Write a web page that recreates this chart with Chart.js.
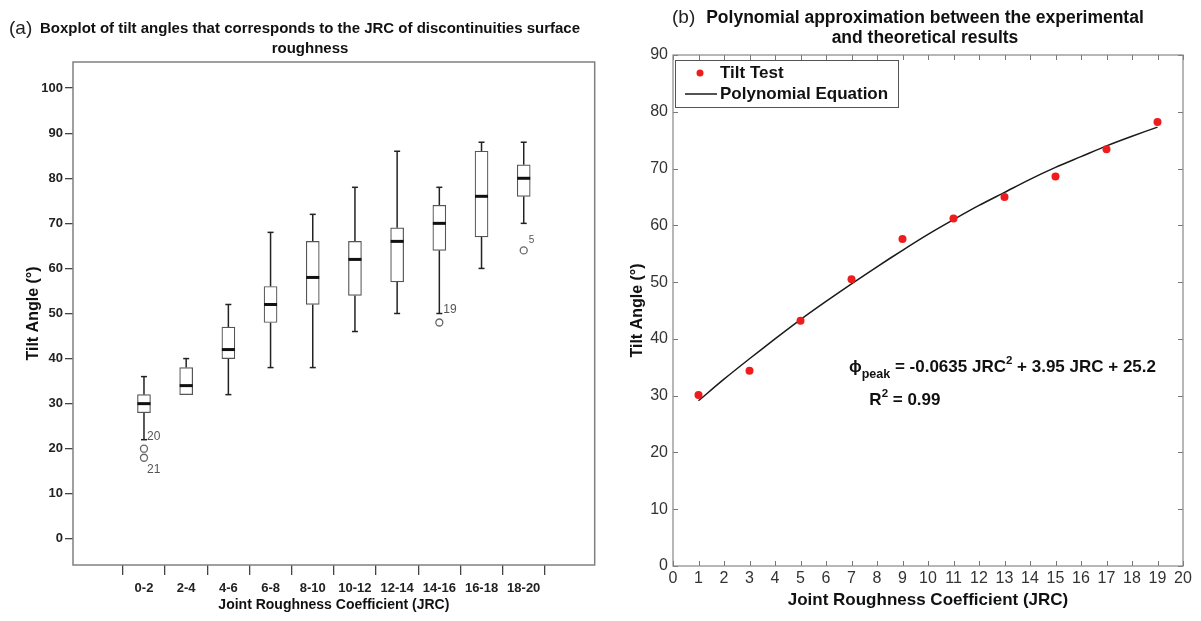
<!DOCTYPE html>
<html><head><meta charset="utf-8">
<title>Tilt angle vs JRC</title>
<script src="https://cdn.jsdelivr.net/npm/chart.js@4.4.1/dist/chart.umd.min.js"></script>
<style>
html,body{margin:0;padding:0;background:#fff;}
body{width:1201px;height:621px;position:relative;overflow:hidden;}
canvas{position:absolute;top:0;}
#ca{left:0;} #cb{left:600px;}
.lbl{position:absolute;white-space:nowrap;color:#111;}
.tag{font-family:'Liberation Sans',Arial,sans-serif;font-size:19px;font-weight:normal;color:#222;line-height:22px;}
.ta{font-family:'Liberation Sans',Arial,sans-serif;font-weight:bold;font-size:15px;text-align:center;line-height:20px;}
.tb{font-family:'Liberation Sans',Arial,sans-serif;font-weight:bold;font-size:17.5px;text-align:center;line-height:20px;}
</style></head>
<body>
<canvas id="ca" width="600" height="621"></canvas>
<canvas id="cb" width="601" height="621"></canvas>
<div class="lbl tag" style="left:9px;top:17px;">(a)</div>
<div class="lbl ta" style="left:10px;width:600px;top:18px;">Boxplot of tilt angles that corresponds to the JRC of discontinuities surface<br>roughness</div>
<div class="lbl tag" style="left:672px;top:6px;">(b)</div>
<div class="lbl tb" style="left:625px;width:600px;top:7px;">Polynomial approximation between the experimental<br>and theoretical results</div>
<script>
// ---------- Panel (a) data: boxplot ----------
const categories  = ['0-2','2-4','4-6','6-8','8-10','10-12','12-14','14-16','16-18','18-20'];
const whiskerLow  = [22,32,32,38,38,46,50,50,60,70];
const q1          = [28,32,40,48,52,54,57,64,67,76];
const medians     = [30,34,42,52,58,62,66,70,76,80];
const q3          = [32,38,47,56,66,66,69,74,86,83];
const whiskerHigh = [36,40,52,68,72,78,86,78,88,88];
const outlierIndex = [0,0,7,9];
const outlierValue = [20,18,48,64];
const outlierCase  = ['20','21','19','5'];
const tiltTicksA   = [0,10,20,30,40,50,60,70,80,90,100];

// ---------- Panel (b) data ----------
const jrcTest  = [1,3,5,7,9,11,13,15,17,19];
const tiltTest = [30.1,34.4,43.2,50.5,57.6,61.2,65.0,68.6,73.4,78.2];
const jrcFit   = [1,2,3,4,5,6,7,8,9,10,11,12,13,14,15,16,17,18,19];
const tiltFit  = [29.1,32.9,36.5,40.0,43.4,46.6,49.7,52.7,55.6,58.4,61.0,63.5,65.8,68.1,70.2,72.1,74.0,75.7,77.3];
const jrcTicksB  = [0,1,2,3,4,5,6,7,8,9,10,11,12,13,14,15,16,17,18,19,20];
const tiltTicksB = [0,10,20,30,40,50,60,70,80,90];

const SANS = "'Liberation Sans',Arial,sans-serif";

// ---------- Panel (a) ----------
const boxExtras = {
  id: 'boxExtras',
  beforeDatasetsDraw(chart) {
    const {ctx, scales: {x, y}} = chart;
    ctx.save();
    ctx.strokeStyle = '#222';
    ctx.lineWidth = 1.5;
    const seg = (x1, y1, x2, y2) => { ctx.beginPath(); ctx.moveTo(x1, y1); ctx.lineTo(x2, y2); ctx.stroke(); };
    categories.forEach((c, i) => {
      const px = x.getPixelForValue(i);
      if (whiskerHigh[i] > q3[i]) {
        const yt = y.getPixelForValue(whiskerHigh[i]);
        seg(px, y.getPixelForValue(q3[i]), px, yt);
        seg(px - 3, yt, px + 3, yt);
      }
      if (whiskerLow[i] < q1[i]) {
        const yb = y.getPixelForValue(whiskerLow[i]);
        seg(px, y.getPixelForValue(q1[i]), px, yb);
        seg(px - 3, yb, px + 3, yb);
      }
    });
    ctx.restore();
  },
  afterDatasetsDraw(chart) {
    const {ctx, scales: {x, y}, chartArea: a} = chart;
    ctx.save();
    ctx.strokeStyle = '#111';
    ctx.lineWidth = 3;
    medians.forEach((m, i) => {
      const px = x.getPixelForValue(i), py = y.getPixelForValue(m);
      ctx.beginPath(); ctx.moveTo(px - 6.5, py); ctx.lineTo(px + 6.5, py); ctx.stroke();
    });
    // case labels for outliers
    ctx.fillStyle = '#555';
    ctx.textBaseline = 'middle';
    ctx.textAlign = 'left';
    const offs = [[3, -12, 12], [3, 12, 12], [4, -13, 12], [5, -10, 10]];
    outlierCase.forEach((t, k) => {
      const px = x.getPixelForValue(outlierIndex[k]), py = y.getPixelForValue(outlierValue[k]);
      ctx.font = offs[k][2] + 'px ' + SANS;
      ctx.fillText(t, px + offs[k][0], py + offs[k][1]);
    });
    // frame
    ctx.strokeStyle = '#808080';
    ctx.lineWidth = 1.5;
    ctx.strokeRect(a.left, a.top, a.right - a.left, a.bottom - a.top);
    ctx.restore();
  }
};

new Chart(document.getElementById('ca'), {
  type: 'bar',
  data: {
    datasets: [
      {
        type: 'bar',
        label: 'IQR',
        data: categories.map((c, i) => ({x: i, y: [q1[i], q3[i]]})),
        backgroundColor: '#ffffff',
        borderColor: '#555',
        borderWidth: 1.2,
        borderSkipped: false,
        barThickness: 13
      },
      {
        type: 'scatter',
        label: 'Outliers',
        data: outlierValue.map((v, k) => ({x: outlierIndex[k], y: v})),
        pointStyle: 'circle',
        pointRadius: 3.5,
        backgroundColor: 'rgba(255,255,255,0)',
        borderColor: '#666',
        borderWidth: 1.3
      }
    ]
  },
  options: {
    responsive: false,
    devicePixelRatio: 1,
    animation: false,
    events: [],
    layout: {padding: {left: 0, right: 4, top: 62, bottom: 0}},
    plugins: {legend: {display: false}, tooltip: {enabled: false}},
    scales: {
      x: {
        type: 'linear',
        min: -1.064, max: 10.064,
        afterBuildTicks: s => { s.ticks = categories.map((c, i) => ({value: i})); },
        afterFit: s => { s.height = 56; },
        ticks: {autoSkip: false, maxRotation: 0, callback: v => categories[v], color: '#222',
                font: {family: SANS, weight: 'bold', size: 13}, padding: 6},
        grid: {display: true, drawOnChartArea: false, drawTicks: true, tickLength: 10, color: '#444', lineWidth: 1.3},
        border: {display: false},
        title: {display: true, text: 'Joint Roughness Coefficient (JRC)', color: '#111',
                font: {family: SANS, weight: 'bold', size: 14}, padding: {top: 0, bottom: 7}}
      },
      y: {
        type: 'linear',
        min: -5.8, max: 105.8,
        afterBuildTicks: s => { s.ticks = tiltTicksA.map(v => ({value: v})); },
        afterFit: s => { s.width = 73; },
        ticks: {color: '#222', font: {family: SANS, weight: 'bold', size: 13}, padding: 2},
        grid: {display: true, drawOnChartArea: false, drawTicks: true, tickLength: 8, color: '#444', lineWidth: 1.3},
        border: {display: false},
        title: {display: true, text: 'Tilt Angle (°)', color: '#111',
                font: {family: SANS, weight: 'bold', size: 16}, padding: {top: 24, bottom: 0}}
      }
    }
  },
  plugins: [boxExtras]
});

// ---------- Panel (b) ----------
const matlabExtras = {
  id: 'matlabExtras',
  afterDatasetsDraw(chart) {
    const {ctx, scales: {x, y}, chartArea: a} = chart;
    ctx.save();
    // inward ticks on all sides
    ctx.strokeStyle = '#777';
    ctx.lineWidth = 1;
    const seg = (x1, y1, x2, y2) => { ctx.beginPath(); ctx.moveTo(x1, y1); ctx.lineTo(x2, y2); ctx.stroke(); };
    jrcTicksB.forEach(v => {
      const px = Math.round(x.getPixelForValue(v)) + 0.5;
      seg(px, a.bottom, px, a.bottom - 5);
      seg(px, a.top, px, a.top + 5);
    });
    tiltTicksB.forEach(v => {
      const py = Math.round(y.getPixelForValue(v)) + 0.5;
      seg(a.left, py, a.left + 5, py);
      seg(a.right, py, a.right - 5, py);
    });
    ctx.strokeStyle = '#888';
    ctx.lineWidth = 1.2;
    ctx.strokeRect(a.left, a.top, a.right - a.left, a.bottom - a.top);

    // legend
    const ds = chart.data.datasets;
    const lx = a.left + 2, ly = a.top + 5, lw = 223, lh = 47;
    ctx.fillStyle = '#fff';
    ctx.fillRect(lx, ly, lw, lh);
    ctx.strokeStyle = '#555';
    ctx.lineWidth = 1;
    ctx.strokeRect(lx + 0.5, ly + 0.5, lw, lh);
    ctx.font = 'bold 17px ' + SANS;
    ctx.textBaseline = 'middle';
    ctx.textAlign = 'left';
    ctx.beginPath();
    ctx.arc(lx + 25, ly + 13, 3.5, 0, Math.PI * 2);
    ctx.fillStyle = ds[0].backgroundColor;
    ctx.fill();
    ctx.fillStyle = '#111';
    ctx.fillText(ds[0].label, lx + 45, ly + 13);
    ctx.strokeStyle = ds[1].borderColor;
    ctx.lineWidth = 1.5;
    seg(lx + 10, ly + 34, lx + 42, ly + 34);
    ctx.fillText(ds[1].label, lx + 45, ly + 34);

    // equation annotation
    let ex = x.getPixelForValue(6.9), ey = y.getPixelForValue(35.0);
    const put = (t, f, dy) => { ctx.font = f; ctx.fillText(t, ex, ey + dy); ex += ctx.measureText(t).width; };
    put('ϕ', 'bold 17px ' + SANS, 0);
    put('peak', 'bold 12.5px ' + SANS, 7);
    put(' = -0.0635 JRC', 'bold 17px ' + SANS, 0);
    put('2', 'bold 11.5px ' + SANS, -6);
    put(' + 3.95 JRC + 25.2', 'bold 17px ' + SANS, 0);
    ex = x.getPixelForValue(7.7); ey = y.getPixelForValue(29.2);
    put('R', 'bold 17px ' + SANS, 0);
    put('2', 'bold 11.5px ' + SANS, -6);
    put(' = 0.99', 'bold 17px ' + SANS, 0);
    ctx.restore();
  }
};

new Chart(document.getElementById('cb'), {
  type: 'scatter',
  data: {
    datasets: [
      {
        label: 'Tilt Test',
        data: jrcTest.map((v, i) => ({x: v, y: tiltTest[i]})),
        pointRadius: 4,
        pointStyle: 'circle',
        backgroundColor: '#ee1c1c',
        borderColor: '#ee1c1c',
        borderWidth: 0,
        showLine: false
      },
      {
        label: 'Polynomial Equation',
        data: jrcFit.map((v, i) => ({x: v, y: tiltFit[i]})),
        showLine: true,
        pointRadius: 0,
        borderColor: '#1a1a1a',
        borderWidth: 1.5,
        tension: 0.3
      }
    ]
  },
  options: {
    responsive: false,
    devicePixelRatio: 1,
    animation: false,
    events: [],
    layout: {padding: {left: 0, right: 18, top: 55, bottom: 0}},
    plugins: {legend: {display: false}, tooltip: {enabled: false}},
    scales: {
      x: {
        type: 'linear', min: 0, max: 20,
        afterBuildTicks: s => { s.ticks = jrcTicksB.map(v => ({value: v})); },
        afterFit: s => { s.height = 55; },
        ticks: {autoSkip: false, maxRotation: 0, color: '#333', font: {family: SANS, size: 16}, padding: 3},
        grid: {display: false, drawTicks: false},
        border: {display: false},
        title: {display: true, text: 'Joint Roughness Coefficient (JRC)', color: '#111',
                font: {family: SANS, weight: 'bold', size: 17}, padding: {top: 0, bottom: 10}}
      },
      y: {
        type: 'linear', min: 0, max: 90,
        afterBuildTicks: s => { s.ticks = tiltTicksB.map(v => ({value: v})); },
        afterFit: s => { s.width = 73; },
        ticks: {color: '#333', font: {family: SANS, size: 16}, padding: 5},
        grid: {display: false, drawTicks: false},
        border: {display: false},
        title: {display: true, text: 'Tilt Angle (°)', color: '#111',
                font: {family: SANS, weight: 'bold', size: 16}, padding: {top: 28, bottom: 0}}
      }
    }
  },
  plugins: [matlabExtras]
});
</script>
</body></html>
